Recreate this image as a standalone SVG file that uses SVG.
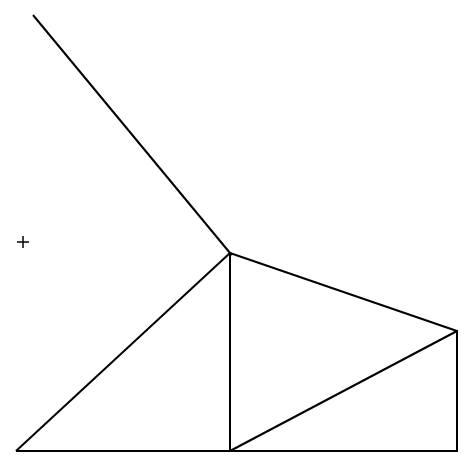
<svg xmlns="http://www.w3.org/2000/svg" width="474" height="467" viewBox="0 0 474 467">
<style>
.e{stroke:#000;stroke-width:2;fill:none;stroke-linecap:butt}
</style>
<rect width="474" height="467" fill="#fff"/>
<g id="connectors">
<line class="e" x1="33" y1="15" x2="230" y2="253"/>
<line class="e" x1="230" y1="253" x2="457" y2="331"/>
<line class="e" x1="230" y1="253" x2="16" y2="451"/>
<line class="e" x1="230" y1="253" x2="230" y2="451"/>
<line class="e" x1="16" y1="451" x2="457" y2="451"/>
<line class="e" x1="230" y1="451" x2="457" y2="331"/>
<line class="e" x1="457" y1="330" x2="457" y2="452"/>
</g>
<g id="marker">
<line stroke="#000" stroke-width="1.5" x1="17" y1="242" x2="29" y2="242"/>
<line stroke="#000" stroke-width="1.5" x1="23" y1="236" x2="23" y2="248"/>
</g>
<g id="center">
<circle cx="231" cy="254" r="1.5" fill="#000"/>
</g>
</svg>
